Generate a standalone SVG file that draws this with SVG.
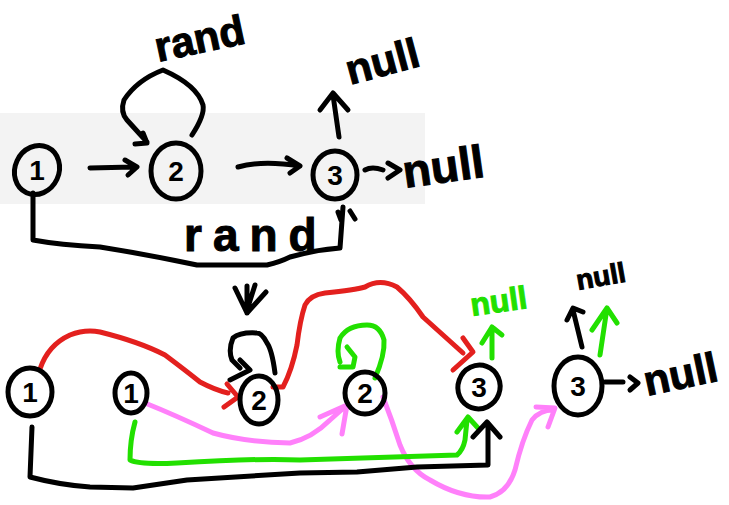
<svg xmlns="http://www.w3.org/2000/svg" width="729" height="505" viewBox="0 0 729 505">
<style>
.s{fill:none;stroke-width:5;stroke-linecap:round;stroke-linejoin:round}
.k{stroke:#000}.r{stroke:#e3201e}.g{stroke:#22e000}.p{stroke:#ff80fa}
.n{fill:none;stroke:#000;stroke-width:5}
.d{font-family:"Liberation Sans",Arial,sans-serif;font-weight:bold;font-size:28px;text-anchor:middle;fill:#000}
.t{font-family:"Liberation Sans",Arial,sans-serif;font-weight:bold;fill:#000;stroke:#000;stroke-width:1}
</style>
<rect x="0" y="113" width="425" height="91" fill="#f3f3f3"/>
<g id="connectors">
  <path class="s k" d="M90,168 L133,167 M125,160 L137,167 L128,175"/>
  <path class="s k" d="M238,167 Q262,160 300,166 M287,158 L300,166 L290,173"/>
  <path class="s k" d="M192,135 Q205,115 203,105 Q197,85 163,70 Q137,80 124,100 Q120,112 127,120 L147,142 M135,144 L147,143 L143,133"/>
  <path class="s k" d="M339,137 L333,95 M320,110 L333,93 L348,110"/>
  <path class="s k" d="M365,170 Q372,166 383,170 M388,163 L400,170 L388,178"/>
  <path class="s k" d="M33,193 L33,240 Q60,245 100,247 Q150,255 197,265 L267,265 Q280,262 290,257 Q315,250 340,248 L343,207 M338,212 L341,220 M350,211 L355,219"/>
  <path class="s k" d="M247,286 L247,313 M235,288 L247,313 L266,292 M255,285 L247,310"/>
  <path class="s r" d="M40,369 Q48,345 70,335 Q85,329 100,332 Q140,342 165,355 Q185,370 200,382 Q215,390 228,393 M227,384 L238,397 L224,407"/>
  <path class="s k" d="M275,373 Q272,350 267,343 Q262,333 257,333 Q240,332 233,338 Q228,350 232,360 L240,368 M240,360 L250,370 L230,380"/>
  <path class="s r" d="M273,387 L283,387 Q292,370 297,345 Q300,320 305,305 Q310,295 325,293 Q355,290 365,287 Q380,278 397,287 Q410,298 423,317 L463,353 M463,338 L473,352 L453,370"/>
  <path class="s g" d="M375,378 Q385,355 384,340 Q380,325 367,325 Q348,325 340,338 Q336,352 340,362 M347,347 L355,357 L353,367 L340,367"/>
  <path class="s p" d="M145,403 Q175,415 213,433 Q245,442 290,443 Q312,438 330,420 L347,405 M320,417 L347,405 L342,434"/>
  <path class="s p" d="M383,397 Q392,420 400,445 Q410,470 430,480 Q460,498 490,497 Q508,492 515,470 Q522,440 532,420 Q540,410 553,410 M536,407 L555,408 L548,427"/>
  <path class="s g" d="M135,422 Q130,440 130,460 Q140,465 177,463 Q260,458 300,460 L457,455 Q463,450 465,440 L467,420 M457,432 L468,417 L478,428"/>
  <path class="s k" d="M32,427 L30,477 Q60,485 90,487 L133,488 Q160,484 187,480 L300,473 L357,472 L417,467 L488,465 L488,427 M473,437 L487,422 L500,437"/>
  <path class="s g" d="M492,358 L492,327 M482,343 L492,327 L502,335"/>
  <path class="s k" d="M582,347 L573,310 M567,320 L573,308 L583,312"/>
  <path class="s g" d="M600,355 L607,308 M592,330 L607,308 L617,323"/>
  <path class="s k" d="M605,382 L623,382 M630,377 L638,383 L630,390"/>
</g>
<g id="labels">
  <text class="t" x="158" y="62" font-size="42" transform="rotate(-12 158 62)">rand</text>
  <text class="t" x="350" y="85" font-size="42" transform="rotate(-15 350 85)">null</text>
  <text class="t" x="405" y="188" font-size="46" transform="rotate(-8 405 188)">null</text>
  <text class="t" x="184" y="251" font-size="46" letter-spacing="11">rand</text>
  <text class="t" x="472" y="316" font-size="32" style="fill:#22e000;stroke:#22e000" transform="rotate(-8 472 316)">null</text>
  <text class="t" x="578" y="290" font-size="28" transform="rotate(-10 578 290)">null</text>
  <text class="t" x="647" y="396" font-size="42" transform="rotate(-12 647 396)">null</text>
</g>
<g id="t1"><ellipse class="n" cx="37" cy="170" rx="22" ry="25" transform="rotate(25 37 170)"/><text class="d" x="37" y="180">1</text></g>
<g id="t2"><ellipse class="n" cx="176" cy="171" rx="25" ry="28"/><text class="d" x="176" y="181">2</text></g>
<g id="t3"><ellipse class="n" cx="335" cy="175" rx="22" ry="24"/><text class="d" x="335" y="185">3</text></g>
<g id="b1"><ellipse class="n" cx="30" cy="392" rx="22" ry="24"/><text class="d" x="30" y="402">1</text></g>
<g id="b1b"><ellipse class="n" cx="131" cy="393" rx="16" ry="20"/><text class="d" x="131" y="403">1</text></g>
<g id="b2"><ellipse class="n" cx="259" cy="400" rx="19" ry="24"/><text class="d" x="259" y="410">2</text></g>
<g id="b2b"><ellipse class="n" cx="365" cy="393" rx="20" ry="21"/><text class="d" x="365" y="403">2</text></g>
<g id="b3"><ellipse class="n" cx="479" cy="387" rx="21" ry="22" transform="rotate(20 479 387)"/><text class="d" x="479" y="397">3</text></g>
<g id="b3b"><ellipse class="n" cx="578" cy="386" rx="24" ry="29"/><text class="d" x="578" y="396">3</text></g>
</svg>
